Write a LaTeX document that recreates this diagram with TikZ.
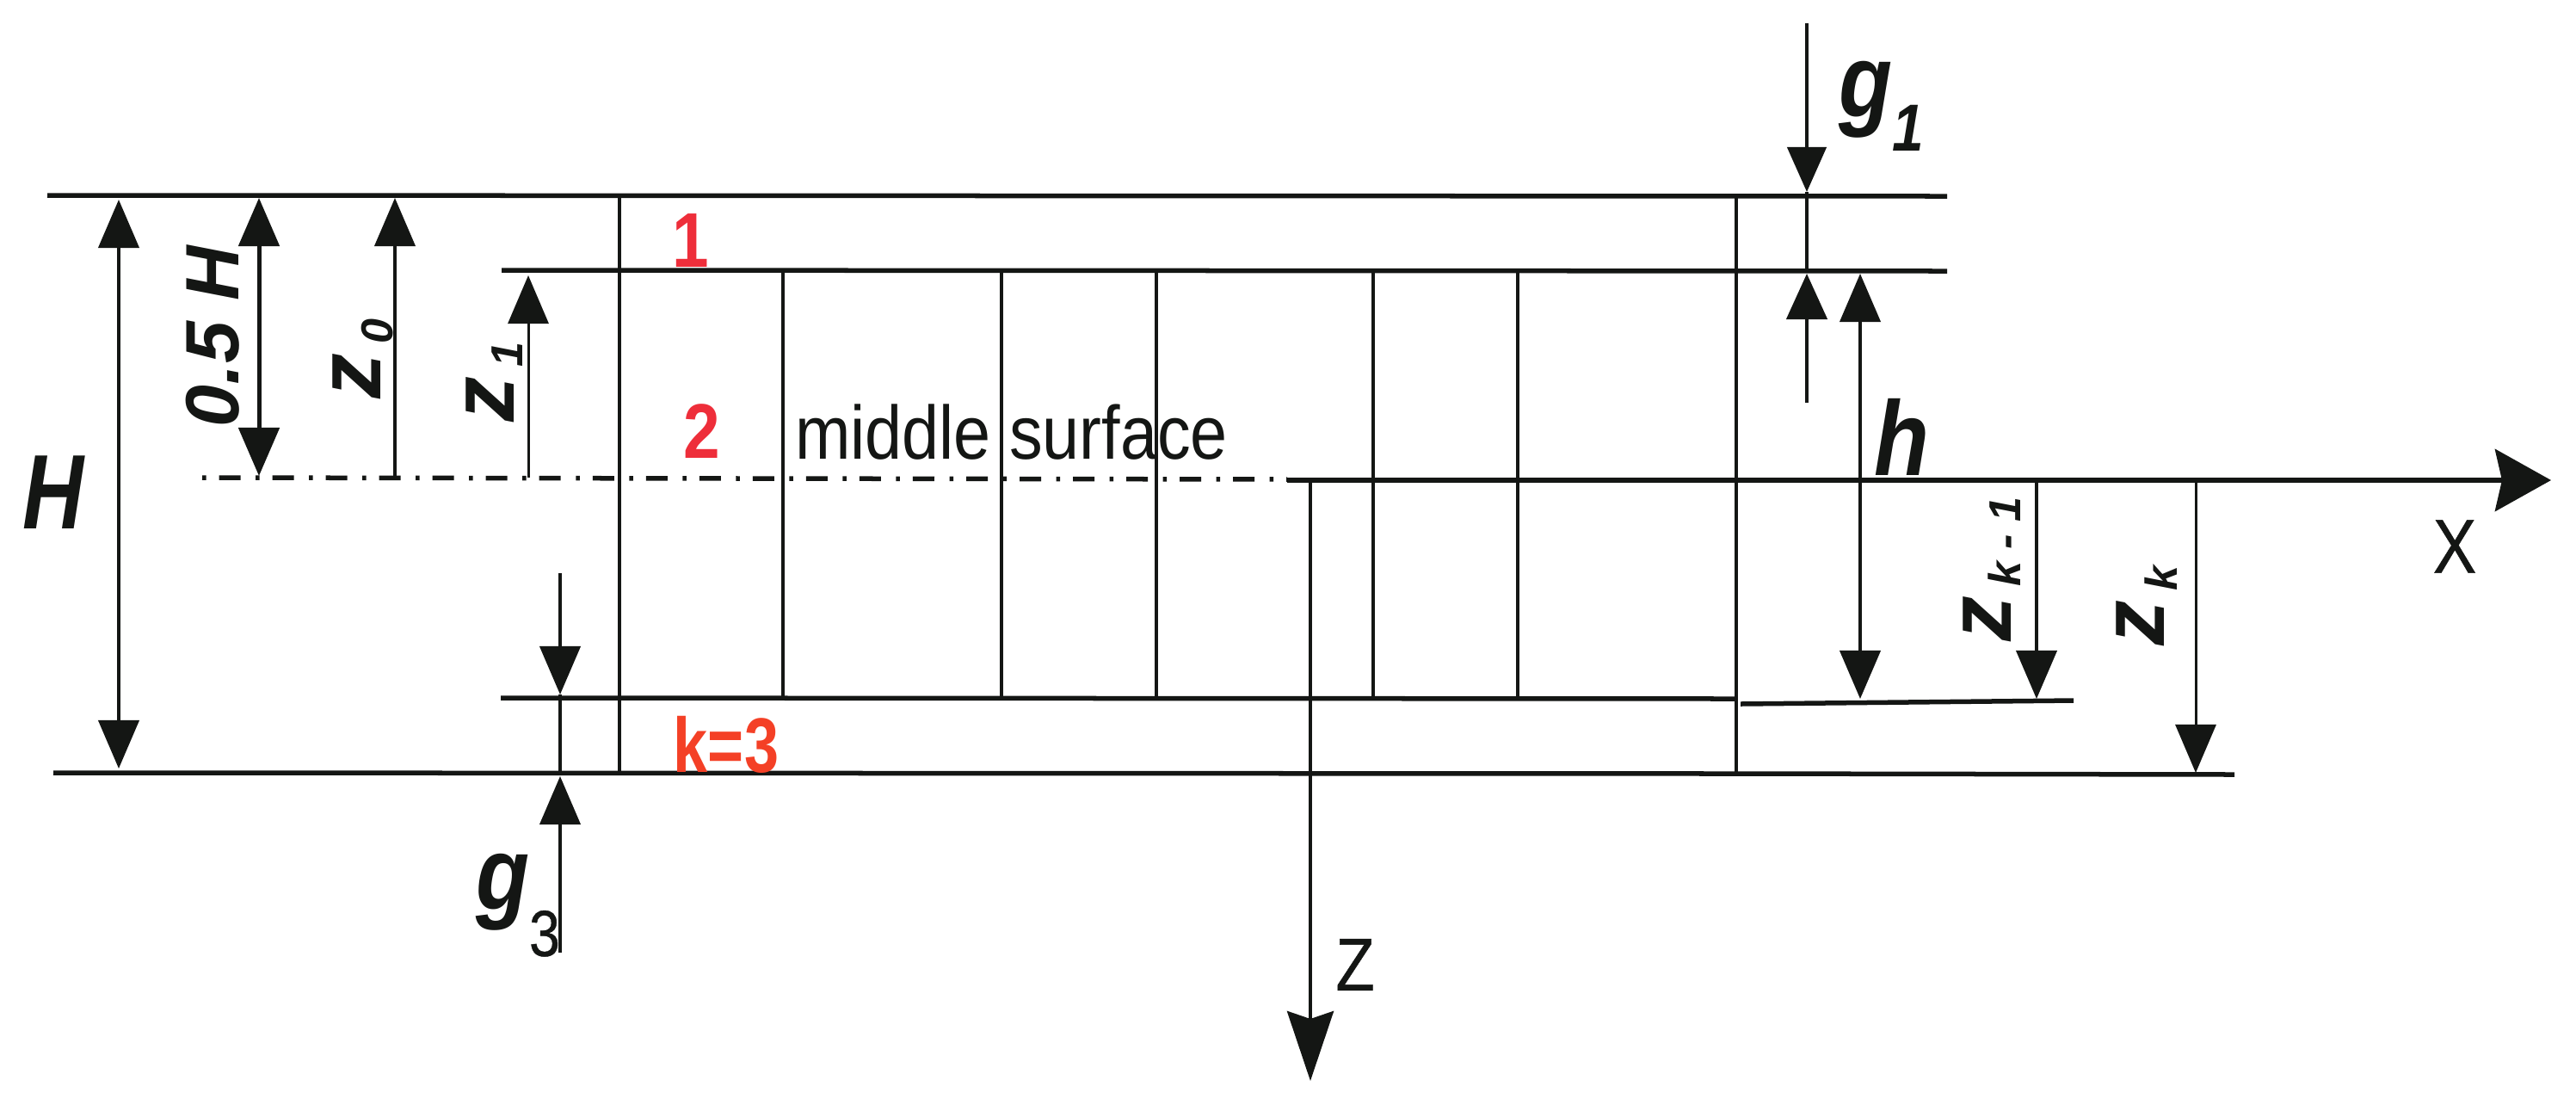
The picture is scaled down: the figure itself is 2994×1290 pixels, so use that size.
\documentclass[tikz,border=0pt]{standalone}
\usepackage{fontspec}
\setmainfont{Liberation Sans}
\newfontfamily\medsans[FakeBold=0.6]{Liberation Sans}
\usetikzlibrary{arrows.meta}
\definecolor{ink}{HTML}{141614}
\definecolor{redone}{HTML}{EE2E3A}
\definecolor{redtwo}{HTML}{F44026}
\newcommand{\fsz}[1]{\fontsize{#1}{#1}\selectfont}
\tikzset{
  heavy/.style={draw=ink,line width=0.055cm},
  wall/.style={draw=ink,line width=0.04cm},
  tipA/.tip={Triangle[length=0.56cm,width=0.47cm]},
  dimend/.style={draw=ink,line width=0.04cm,-{tipA}},
  dimboth/.style={draw=ink,line width=0.04cm,{tipA}-{tipA}},
  axisline/.style={draw=ink,line width=0.06cm},
  lbl/.style={inner sep=0pt,outer sep=0pt,text=ink},
  uplbl/.style={lbl,rotate=90,anchor=base west},
}
\begin{document}
\begin{tikzpicture}[x=0.01cm,y=-0.01cm]
\useasboundingbox (0,0) rectangle (2994,1290);
\fill[white] (0,0) rectangle (2994,1290);

% plate faces
\draw[heavy] (55,227) -- (2263,228);
\draw[heavy] (583,314) -- (2263,315);
\draw[heavy] (582,811) -- (2017,812);
\draw[heavy] (2023,818) -- (2410,814);
\draw[heavy] (62,898) -- (2017,899) -- (2597,900);

% walls and layer lines
\draw[wall] (720,227) -- (720,898);
\draw[wall] (2018,228) -- (2018,899);
\foreach \px in {910,1164,1344,1596,1764}
  \draw[wall] (\px,314) -- (\px,811);

% middle surface and axes
\draw[draw=ink,line width=0.055cm,dash pattern=on 0.045cm off 0.15cm on 0.25cm off 0.175cm] (235,555) -- (1496,557);
\draw[axisline,-{Stealth[length=0.65cm,width=0.72cm,inset=0.08cm]}] (1496,558) -- (2965,558);
\draw[draw=ink,line width=0.04cm,-{Stealth[length=0.81cm,width=0.54cm,inset=0.09cm]}] (1523,558) -- (1523,1256);

% dimension arrows, left
\draw[dimboth] (138,232) -- (138,893);
\draw[dimboth,line width=0.05cm] (301,230) -- (301,553);
\draw[dimend] (459,555) -- (459,230);
\draw[dimend,line width=0.03cm] (614,555) -- (614,320);
\draw[dimend] (651,666) -- (651,807);
\draw[wall] (651,807) -- (651,898);
\draw[dimend] (651,1107) -- (651,902);

% dimension arrows, right
\draw[dimend,-{Triangle[length=0.52cm,width=0.45cm]},line width=0.045cm] (2100,27) -- (2100,223);
\draw[wall] (2100,223) -- (2100,315);
\draw[dimend,-{Triangle[length=0.53cm,width=0.47cm]},line width=0.045cm] (2100,468) -- (2100,318);
\draw[dimboth] (2162,318) -- (2162,812);
\draw[dimend] (2367,558) -- (2367,812);
\draw[dimend,line width=0.03cm] (2552,558) -- (2552,898);

% labels
\node[lbl,xscale=0.8] (labH) at (62,572) {\fsz{35}\bfseries\itshape H};
\node[lbl,rotate=90] (labhalf) at (247,391) {\fsz{25}\bfseries\itshape 0.5 H};
\node[uplbl] (labz0) at (442,463) {\fsz{30}\bfseries\itshape z\kern3pt\raisebox{-4pt}{\fsz{14.8}0}};
\node[uplbl] (labz1) at (597,490) {\fsz{30}\bfseries\itshape z\kern3pt\raisebox{-3pt}{\fsz{14.8}1}};
\node[uplbl] (labzk1) at (2337,745) {\fsz{30}\bfseries\itshape z\kern3pt\raisebox{-3.4pt}{\fsz{14.8}k - 1}};
\node[uplbl] (labzk) at (2515,750) {\fsz{30}\bfseries\itshape z\kern3pt\raisebox{-4.5pt}{\fsz{14.8}k}};
\node[lbl,anchor=base west,xscale=0.85] (labg1) at (2137,135) {\fsz{34}\bfseries\itshape g\raisebox{-11.4pt}{\fsz{22}1}};
\node[lbl,anchor=base west,xscale=0.85] (labg3) at (553,1056) {\fsz{34}\bfseries\itshape g\raisebox{-15.6pt}{\fsz{21.5}\medsans\mdseries\upshape 3}};
\node[lbl,anchor=base west,xscale=0.85] (labh) at (2178,552) {\fsz{35}\bfseries\itshape h};
\node[lbl,xscale=0.85] (labX) at (2853,635) {\fsz{25.3}\medsans X};
\node[lbl,xscale=0.85] (labZ) at (1575,1121) {\fsz{24.75}\medsans Z};
\node[lbl,anchor=base west,xscale=0.88] (labmid) at (924,533) {\fsz{25}middle surface};
\node[lbl,text=redone,xscale=0.85] (lab1) at (803,280) {\fsz{25.6}\bfseries 1};
\node[lbl,text=redone,xscale=0.85] (lab2) at (816,501) {\fsz{25.6}\bfseries 2};
\node[lbl,text=redtwo,xscale=0.8] (lab3) at (844,865) {\fsz{25.6}\bfseries k=3};
\end{tikzpicture}
\end{document}
